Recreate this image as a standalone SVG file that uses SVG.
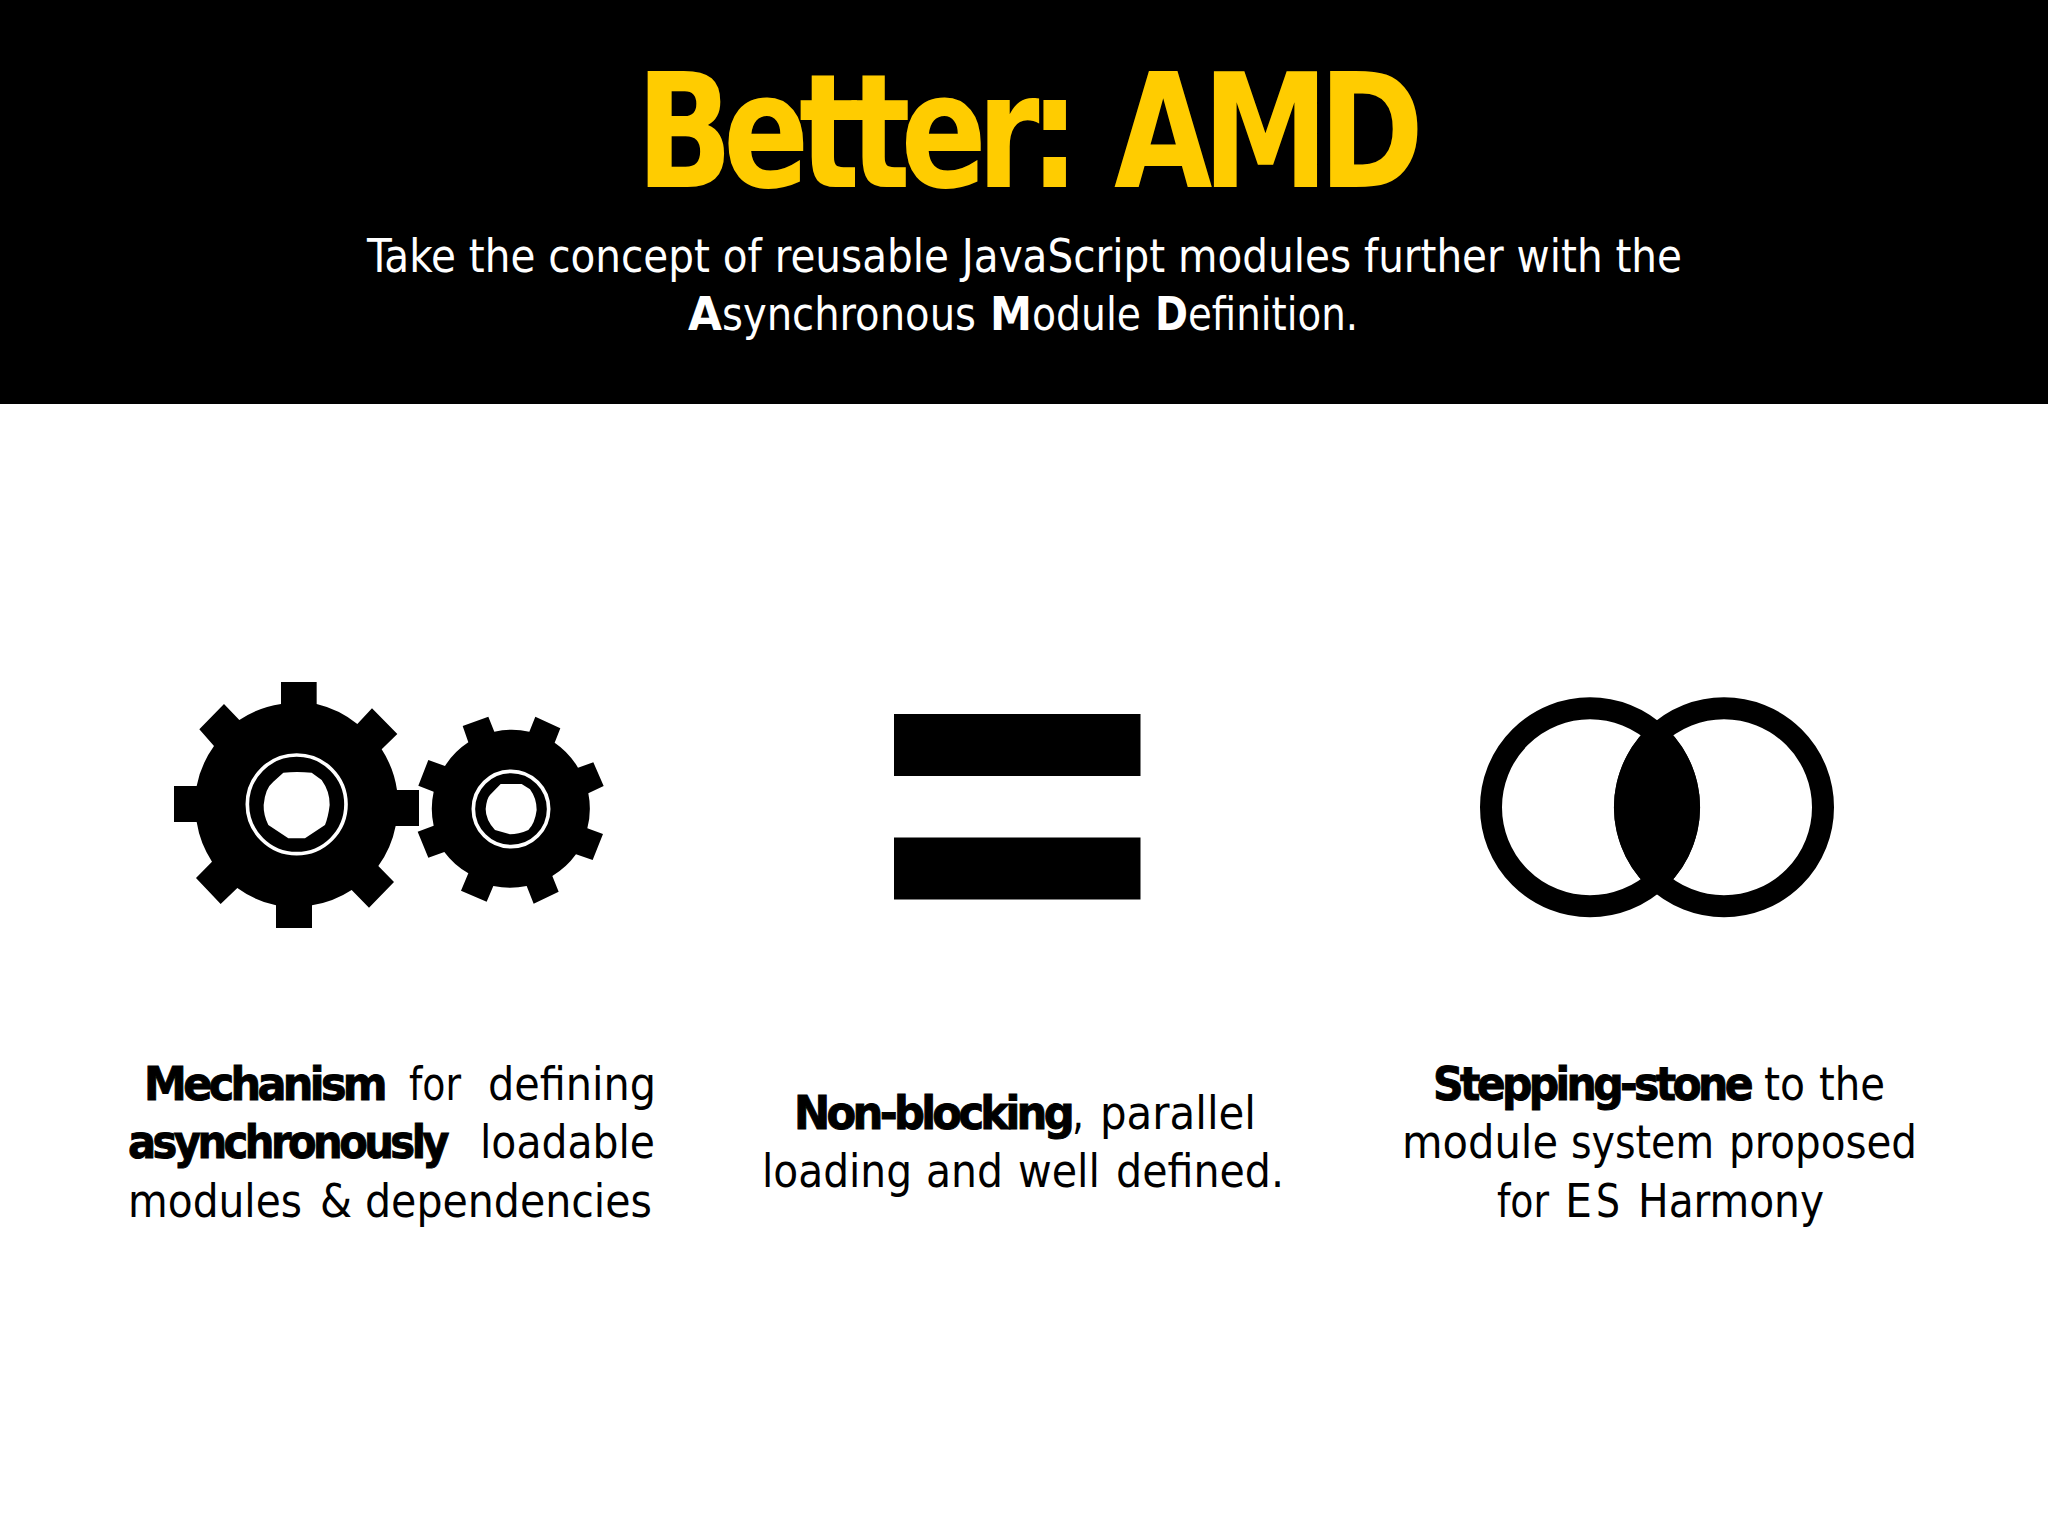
<svg xmlns="http://www.w3.org/2000/svg" width="2048" height="1536" viewBox="0 0 2048 1536">
<style>
text{font-family:"DejaVu Sans Condensed","DejaVu Sans",sans-serif}
.t{font-family:"DejaVu Sans",sans-serif;font-size:158px;font-weight:700;fill:#ffcc00;letter-spacing:-.08em}
.s{font-size:46px;fill:#fff}
.b{font-size:46px;fill:#000}
.h{font-family:"DejaVu Sans",sans-serif;font-weight:700;stroke:#000;stroke-width:1;letter-spacing:-.085em}
.k{font-family:"DejaVu Sans",sans-serif;font-weight:700}
</style>
<rect width="2048" height="1536" fill="#fff"/>
<rect id="band" width="2048" height="404" fill="#000"/>
<g id="title"><text class="t" y="187"><tspan x="636" textLength="434" lengthAdjust="spacingAndGlyphs">Better:</tspan> <tspan x="1114" textLength="300" lengthAdjust="spacingAndGlyphs">AMD</tspan></text></g>
<g id="subtitle">
<text class="s" x="367" y="272" textLength="1315" lengthAdjust="spacingAndGlyphs">Take the concept of reusable JavaScript modules further with the</text>
<text class="s" y="330"><tspan class="k" x="688" textLength="34" lengthAdjust="spacingAndGlyphs">A</tspan><tspan x="722" textLength="254" lengthAdjust="spacingAndGlyphs">synchronous</tspan> <tspan class="k" x="990" textLength="42" lengthAdjust="spacingAndGlyphs">M</tspan><tspan x="1032" textLength="109" lengthAdjust="spacingAndGlyphs">odule</tspan> <tspan class="k" x="1155" textLength="33" lengthAdjust="spacingAndGlyphs">D</tspan><tspan x="1188" textLength="170" lengthAdjust="spacingAndGlyphs">efinition.</tspan></text>
</g>
<g id="gears" transform="translate(140 660) scale(.33333)">
<path fill="#000" d="M423 66H530V132A305 305 0 0 1 652 192L696 145 772 222 725 268A305 305 0 0 1 771 390H837V498H767A305 305 0 0 1 715 618L762 666 687 743 635 690A305 305 0 0 1 516 736V804H408V736A305 305 0 0 1 292 684L242 732 168 654 216 605A305 305 0 0 1 170 486H102V378H170A305 305 0 0 1 222 258L178 208 252 132 298 180A305 305 0 0 1 423 132Z"/>
<path fill="#000" d="M1045 170 1063 215A235 235 0 0 1 1168 215L1186 170 1261 205 1244 248A235 235 0 0 1 1314 323L1360 307 1391 378 1345 400A235 235 0 0 1 1342 505L1389 522 1358 600 1308 583A235 235 0 0 1 1237 648L1256 695 1181 731 1160 678A235 235 0 0 1 1060 678L1040 725 963 692 985 640A235 235 0 0 1 913 576L865 593 833 515 881 497A235 235 0 0 1 881 395L835 377 865 300 915 318A235 235 0 0 1 985 247L968 198Z"/>
<path fill="#fff" d="M430 338Q470 334 515 338L545 360Q570 395 569 435Q565 470 555 495L495 535H445L385 495Q370 465 371 435Q375 385 400 365Z"/>
<path fill="#fff" d="M1082 372H1145L1170 388Q1190 415 1190 450Q1185 490 1165 510Q1135 523 1110 523L1065 510Q1037 480 1037 447Q1040 415 1050 405Z"/>
<circle cx="470" cy="433" r="148" fill="none" stroke="#fff" stroke-width="11"/>
<circle cx="1113" cy="447" r="113" fill="none" stroke="#fff" stroke-width="11"/>
</g>
<g id="equals" fill="#000">
<rect x="894" y="714" width="246.5" height="62"/>
<rect x="894" y="837.5" width="246.5" height="62"/>
</g>
<g id="circles">
<circle cx="1590" cy="807.3" r="99" fill="none" stroke="#000" stroke-width="22"/>
<circle cx="1724" cy="807.3" r="99" fill="none" stroke="#000" stroke-width="22"/>
<path fill="#000" d="M1657 720A110 110 0 0 1 1657 894.6A110 110 0 0 1 1657 720Z"/>
</g>
<g id="caption-left">
<text class="b" y="1100"><tspan class="h" x="144" textLength="240" lengthAdjust="spacingAndGlyphs">Mechanism</tspan> <tspan x="409" textLength="52" lengthAdjust="spacingAndGlyphs">for</tspan> <tspan x="488" textLength="168" lengthAdjust="spacingAndGlyphs">defining</tspan></text>
<text class="b" y="1158"><tspan class="h" x="128" textLength="318" lengthAdjust="spacingAndGlyphs">asynchronously</tspan> <tspan x="480" textLength="175" lengthAdjust="spacingAndGlyphs">loadable</tspan></text>
<text class="b" y="1217"><tspan x="128" textLength="174" lengthAdjust="spacingAndGlyphs">modules</tspan> <tspan x="320" textLength="32" lengthAdjust="spacingAndGlyphs">&amp;</tspan> <tspan x="365" textLength="287" lengthAdjust="spacingAndGlyphs">dependencies</tspan></text>
</g>
<g id="caption-middle">
<text class="b" y="1129"><tspan class="h" x="794" textLength="277" lengthAdjust="spacingAndGlyphs">Non-blocking</tspan><tspan x="1072" textLength="12" lengthAdjust="spacingAndGlyphs">,</tspan> <tspan x="1100" textLength="156" lengthAdjust="spacingAndGlyphs">parallel</tspan></text>
<text class="b" y="1187"><tspan x="762" textLength="150" lengthAdjust="spacingAndGlyphs">loading</tspan> <tspan x="926" textLength="77" lengthAdjust="spacingAndGlyphs">and</tspan> <tspan x="1018" textLength="82" lengthAdjust="spacingAndGlyphs">well</tspan> <tspan x="1116" textLength="168" lengthAdjust="spacingAndGlyphs">defined.</tspan></text>
</g>
<g id="caption-right">
<text class="b" y="1100"><tspan class="h" x="1433" textLength="317" lengthAdjust="spacingAndGlyphs">Stepping-stone</tspan> <tspan x="1764" textLength="41" lengthAdjust="spacingAndGlyphs">to</tspan> <tspan x="1819" textLength="66" lengthAdjust="spacingAndGlyphs">the</tspan></text>
<text class="b" y="1158"><tspan x="1402" textLength="156" lengthAdjust="spacingAndGlyphs">module</tspan> <tspan x="1571" textLength="143" lengthAdjust="spacingAndGlyphs">system</tspan> <tspan x="1729" textLength="188" lengthAdjust="spacingAndGlyphs">proposed</tspan></text>
<text class="b" y="1217"><tspan x="1497" textLength="52" lengthAdjust="spacingAndGlyphs">for</tspan> <tspan x="1565" textLength="27" lengthAdjust="spacingAndGlyphs">E</tspan><tspan x="1596" textLength="24" lengthAdjust="spacingAndGlyphs">S</tspan> <tspan x="1638" textLength="186" lengthAdjust="spacingAndGlyphs">Harmony</tspan></text>
</g>
</svg>
